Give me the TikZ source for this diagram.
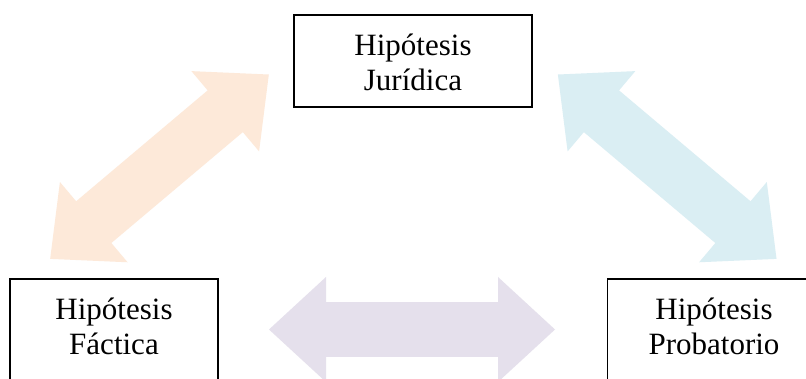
\documentclass[tikz,border=0pt]{standalone}
\usepackage{fontspec}
\setmainfont{Liberation Serif}
\definecolor{arrOrange}{HTML}{FDE9D9}
\definecolor{arrBlue}{HTML}{DAEEF3}
\definecolor{arrPurple}{HTML}{E5E0EC}
\tikzset{
  dblarrow/.pic={
    \path[pic actions] (-143,0) -- (-86,-52.5) -- (-86,-27.3) -- (86,-27.3) -- (86,-52.5)
      -- (143,0) -- (86,52.5) -- (86,27.3) -- (-86,27.3) -- (-86,52.5) -- cycle;
  },
  hbox/.style={draw=black, line width=1.3pt, inner sep=0pt, align=center,
    font=\fontsize{31}{35.5}\selectfont}
}
\begin{document}
\begin{tikzpicture}[x=1pt,y=-1pt]
\useasboundingbox (0,0) rectangle (806,379);
\clip (0,0) rectangle (806,379);
\fill[white] (0,0) rectangle (806,379);
% block arrows
\pic[fill=arrOrange, rotate=40.14] at (159.5,166.7) {dblarrow};
\pic[fill=arrBlue, rotate=-40.14] at (667.2,166.7) {dblarrow};
\pic[fill=arrPurple] at (412,329.5) {dblarrow};
% boxes
\node[hbox, minimum width=238pt, text height=76pt, text depth=16pt] (jur) at (413,61) {Hipótesis\\Jurídica};
\node[hbox, minimum width=208pt, text height=76pt, text depth=60pt] (fac) at (114,347) {Hipótesis\\Fáctica};
\node[hbox, minimum width=213pt, text height=76pt, text depth=60pt] (pro) at (714,347) {Hipótesis\\Probatorio};
\end{tikzpicture}
\end{document}
